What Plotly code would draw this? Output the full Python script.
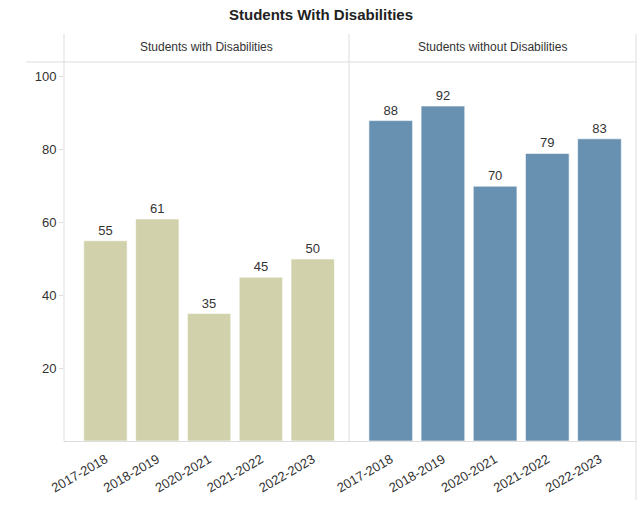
import plotly.graph_objects as go

years = ["2017-2018", "2018-2019", "2020-2021", "2021-2022", "2022-2023"]
with_dis = [55, 61, 35, 45, 50]
without_dis = [88, 92, 70, 79, 83]
panel_titles = ["Students with Disabilities", "Students without Disabilities"]
chart_title = "Students With Disabilities"
y_ticks = [20, 40, 60, 80, 100]

W, H = 641, 505
ml, mr, mt, mb = 64, 5, 62, 64
pw = W - ml - mr
ph = H - mt - mb
split = 285 / pw

def py(p):
    return (H - mb - p) / ph

def px(p):
    return (p - ml) / pw

FONT = "Liberation Sans, Arial, sans-serif"
TXT = "#333333"

fig = go.Figure()
fig.add_trace(go.Bar(x=years, y=with_dis, xaxis="x", yaxis="y",
                     marker=dict(color="#d1d2ab", line=dict(color="rgba(255,255,255,0.6)", width=1)),
                     text=with_dis, textposition="outside", cliponaxis=False,
                     textfont=dict(size=13, color=TXT, family=FONT)))
fig.add_trace(go.Bar(x=years, y=without_dis, xaxis="x2", yaxis="y2",
                     marker=dict(color="#6890b1", line=dict(color="rgba(255,255,255,0.6)", width=1)),
                     text=without_dis, textposition="outside", cliponaxis=False,
                     textfont=dict(size=13, color=TXT, family=FONT)))

xcommon = dict(type="category", range=[-0.8, 4.7], tickangle=-30, showgrid=False, automargin=False,
               showline=True, linecolor="#dddddd", linewidth=1, ticks="", ticklabelstandoff=5,
               tickfont=dict(size=13, color=TXT, family=FONT), zeroline=False)
ycommon = dict(range=[0, 104.1], showgrid=False, zeroline=False, showline=False, automargin=False)

fig.update_layout(
    width=W, height=H,
    margin=dict(l=ml, r=mr, t=mt, b=mb),
    paper_bgcolor="white", plot_bgcolor="white",
    showlegend=False, bargap=0.163,
    font=dict(family=FONT, color=TXT),
    xaxis=dict(domain=[0, split], anchor="y", **xcommon),
    xaxis2=dict(domain=[split, 1], anchor="y2", **xcommon),
    yaxis=dict(anchor="x", tickvals=y_ticks, ticks="outside", ticklen=4, tickcolor="#dddddd",
               tickfont=dict(size=13, color=TXT, family=FONT), **ycommon),
    yaxis2=dict(anchor="x2", matches="y", showticklabels=False, ticks="", **ycommon),
)

annotations = [
    dict(text="<b>" + chart_title + "</b>", x=px(320.5), y=py(14), xref="paper", yref="paper",
         xanchor="center", yanchor="middle",
         showarrow=False, font=dict(size=15, color="#222222", family=FONT)),
    dict(text=panel_titles[0], x=split / 2, y=py(47), xref="paper", yref="paper",
         xanchor="center", yanchor="middle",
         showarrow=False, font=dict(size=12, color=TXT, family=FONT)),
    dict(text=panel_titles[1], x=(split + 1) / 2, y=py(47), xref="paper", yref="paper",
         xanchor="center", yanchor="middle",
         showarrow=False, font=dict(size=12, color=TXT, family=FONT)),
]
fig.update_layout(annotations=annotations)

lc = dict(color="#dddddd", width=1)
shapes = [
    dict(type="line", xref="paper", yref="paper", x0=0, x1=0, y0=0, y1=py(34), line=lc),
    dict(type="line", xref="paper", yref="paper", x0=split, x1=split, y0=0, y1=py(34), line=lc),
    dict(type="line", xref="paper", yref="paper", x0=1, x1=1, y0=py(500), y1=py(34), line=lc),
    dict(type="line", xref="paper", yref="paper", x0=px(26), x1=1, y0=1, y1=1, line=lc),
]
fig.update_layout(shapes=shapes)

fig.write_html("out.html")
